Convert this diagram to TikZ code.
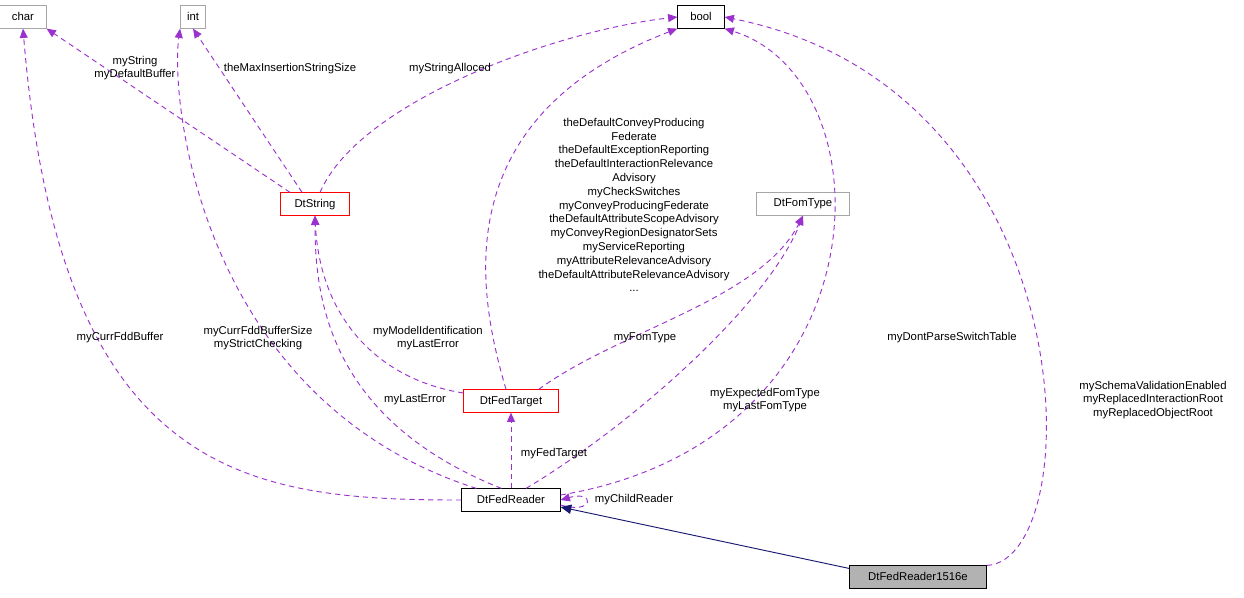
\documentclass[tikz,border=0pt]{standalone}
\usepackage{fontspec}
\setmainfont{Liberation Sans}
\usetikzlibrary{arrows.meta}
\definecolor{edg}{HTML}{9A32CD}
\definecolor{nav}{HTML}{191970}
\begin{document}
\begin{tikzpicture}[x=0.75pt,y=-0.75pt,
  box/.style={draw=#1,fill=white,minimum height=17pt,inner xsep=4pt,text depth=1.5pt,font=\fontsize{8.5}{10}\selectfont},
  dep/.style={draw=edg,line width=0.7pt,dash pattern=on 4pt off 3pt,-{Triangle[length=7pt,width=6pt,fill=edg,sep=0pt]}},
  lab/.style={font=\fontsize{8.5}{10}\selectfont,align=center,inner sep=0pt}]
\useasboundingbox (0,0) rectangle (1244,597);
\node[box=gray!70,minimum width=35pt] (char) at (23,17) {char};
\node[box=gray!70,minimum width=19pt] (int) at (193,17) {int};
\node[box=black,minimum width=35pt] (bool) at (701,17) {bool};
\node[box=red,minimum width=52pt] (str) at (315,204) {DtString};
\node[box=gray!70,minimum width=70pt] (fom) at (803,204) {DtFomType};
\node[box=red,minimum width=71pt] (tgt) at (511,401) {DtFedTarget};
\node[box=black,minimum width=74pt] (rdr) at (511,500) {DtFedReader};
\node[box=black,fill=gray!60,minimum width=103pt] (r15) at (918,577) {DtFedReader1516e};

\draw[dep] (str.north west) ++(10,0) -- (char.south east);
\draw[dep] (str.north west) ++(22,0) -- (int.south);
\draw[dep] (str.north) ++(5,0) .. controls (360,100) and (560,30) .. (bool.west);
\draw[dep] (tgt.north) ++(-5,0) .. controls (480,300) and (440,120) .. (bool.south west);
\draw[dep] (tgt.west) ++(0,-8) .. controls (380,380) and (320,320) .. (str.south);
\draw[dep] (tgt.north east) ++(-20,0) .. controls (620,330) and (760,300) .. (fom.south);
\draw[dep] (rdr.west) .. controls (250,500) and (60,480) .. (char.south);
\draw[dep] (rdr.north west) ++(15,0) .. controls (200,400) and (170,100) .. (int.south west);
\draw[dep] (rdr.north west) ++(40,0) .. controls (330,420) and (315,300) .. (str.south);
\draw[dep] (rdr.north) -- (tgt.south);
\draw[dep] (rdr.north) ++(15,0) .. controls (640,420) and (770,300) .. (fom.south);
\draw[dep] (rdr.east) ++(0,-5) .. controls (890,440) and (890,80) .. (bool.south east);
\draw[dep] (rdr.east) ++(0,5) .. controls (595,515) and (595,490) .. (rdr.east);
\draw[dep] (r15.north east) .. controls (1090,560) and (1090,90) .. (bool.east);
\draw[nav,line width=0.7pt,-{Triangle[length=8pt,width=7pt,fill=nav]}] (r15.north west) ++(0,3) -- (rdr.east |- 0,507);

\node[lab] at (135,68) {myString\\myDefaultBuffer};
\node[lab] at (290,69) {theMaxInsertionStringSize};
\node[lab] at (450,69) {myStringAlloced};
\node[lab,font=\fontsize{8.5}{10.35}\selectfont] at (634,205) {theDefaultConveyProducing\\Federate\\theDefaultExceptionReporting\\theDefaultInteractionRelevance\\Advisory\\myCheckSwitches\\myConveyProducingFederate\\theDefaultAttributeScopeAdvisory\\myConveyRegionDesignatorSets\\myServiceReporting\\myAttributeRelevanceAdvisory\\theDefaultAttributeRelevanceAdvisory\\...};
\node[lab] at (428,338) {myModelIdentification\\myLastError};
\node[lab] at (645,338) {myFomType};
\node[lab] at (120,338) {myCurrFddBuffer};
\node[lab] at (258,338) {myCurrFddBufferSize\\myStrictChecking};
\node[lab] at (415,400) {myLastError};
\node[lab] at (554,454) {myFedTarget};
\node[lab] at (765,400) {myExpectedFomType\\myLastFomType};
\node[lab] at (952,338) {myDontParseSwitchTable};
\node[lab] at (634,500) {myChildReader};
\node[lab] at (1153,400) {mySchemaValidationEnabled\\myReplacedInteractionRoot\\myReplacedObjectRoot};
\end{tikzpicture}
\end{document}
